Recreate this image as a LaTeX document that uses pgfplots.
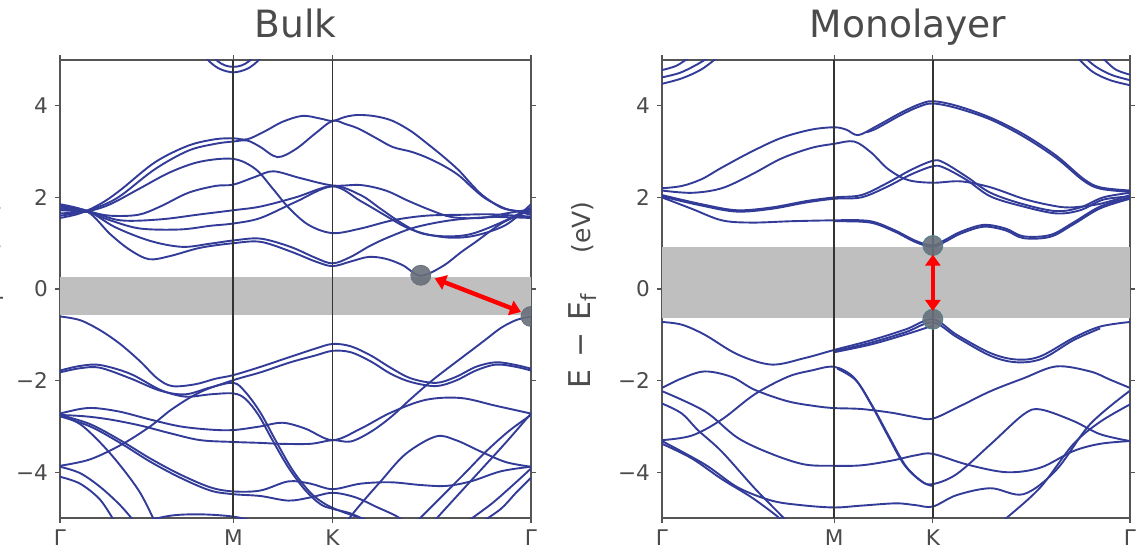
\documentclass[border=0pt]{standalone}
\usepackage{fontspec}
\setmainfont{DejaVu Sans}
\usepackage{pgfplots}
\pgfplotsset{compat=1.18}
\usetikzlibrary{arrows.meta}
\definecolor{bandc}{RGB}{50,60,152}
\definecolor{framec}{RGB}{85,85,85}
\definecolor{textc}{RGB}{75,75,75}
\definecolor{dotc}{RGB}{105,112,122}
\definecolor{dotedge}{RGB}{80,130,140}
\pgfplotsset{
 bs/.style={
  scale only axis, height=229pt,
  xmin=0, xmax=470, ymin=-5, ymax=5,
  xtick={0,173,272,470}, xticklabels={Γ,M,K,Γ},
  ytick={-4,-2,0,2,4}, yticklabels={−4,−2,0,2,4},
  tick align=outside, major tick length=2.5pt,
  tick style={framec, line width=0.6pt},
  axis line style={framec, line width=0.75pt},
  ticklabel style={font=\fontsize{10.8}{12}\selectfont, text=textc},
  clip marker paths=true,
 },
 band/.style={bandc, line width=0.95pt, smooth, tension=0.55, mark=none},
 vl/.style={black!80, line width=0.9pt, mark=none},
}
\newcommand{\ylab}{{\fontsize{15}{17}\selectfont E\hspace{0.4em}−\hspace{0.4em}E\textsubscript{f}}\hspace{2em}{\fontsize{12.5}{15}\selectfont (eV)}}
\begin{document}
\begin{tikzpicture}
\path[use as bounding box] (0,0) rectangle (570pt,279pt);
% ---------------- Bulk ----------------
\begin{axis}[bs, width=235.5pt, at={(30pt,20pt)}, anchor=south west]
\addplot[fill=gray!50, draw=none] coordinates {(0,0.27) (470,0.27) (470,-0.57) (0,-0.57)} -- cycle;
% conduction
\addplot[band] coordinates {(140,5.2) (150,4.95) (160,4.8) (173,4.73) (186,4.8) (196,4.95) (206,5.2)};
\addplot[band] coordinates {(148,5.2) (157,4.98) (165,4.88) (173,4.85) (181,4.88) (189,4.98) (198,5.2)};
\addplot[band] coordinates {(0,1.55) (15,1.62) (28,1.72) (45,1.92) (62,2.19) (95,2.77) (128,3.13) (155,3.27) (173,3.29) (187,3.27) (205,3.45) (222,3.65) (242,3.78) (260,3.72) (272,3.67) (285,3.76) (298,3.8) (315,3.77) (332,3.67) (350,3.45) (365,3.2) (382,2.9) (398,2.59) (410,2.3) (422,2.04) (440,1.78) (455,1.7) (470,1.62)};
\addplot[band] coordinates {(0,1.6) (15,1.65) (28,1.72) (45,1.85) (62,2.06) (95,2.62) (128,3.02) (155,3.17) (173,3.22) (187,3.24) (200,3.1) (217,2.88) (235,3.05) (255,3.4) (272,3.67) (285,3.6) (298,3.5) (315,3.3) (332,3.1) (350,3.0) (365,2.88) (382,2.7) (398,2.48) (412,2.2) (425,1.97) (445,1.75) (458,1.7) (470,1.66)};
\addplot[band] coordinates {(0,1.65) (28,1.7) (50,1.85) (80,2.2) (110,2.55) (140,2.78) (173,2.84) (195,2.62) (212,2.2) (228,1.78) (248,1.4) (272,1.22) (300,1.32) (332,1.5) (365,1.6) (400,1.62) (430,1.63) (470,1.58)};
\addplot[band] coordinates {(0,1.72) (28,1.68) (50,1.6) (78,1.62) (100,1.8) (128,2.1) (155,2.25) (173,2.28) (195,2.45) (213,2.57) (240,2.42) (272,2.26) (300,2.27) (325,2.15) (347,1.93) (370,1.72) (391,1.57) (420,1.55) (445,1.65) (470,1.74)};
\addplot[band] coordinates {(0,1.75) (28,1.7) (60,1.5) (100,1.52) (140,1.63) (173,1.72) (200,1.8) (235,2.0) (272,2.25) (300,2.05) (320,1.75) (340,1.45) (360,1.22) (385,1.15) (410,1.2) (440,1.45) (470,1.78)};
\addplot[band] coordinates {(0,1.8) (28,1.68) (50,1.5) (80,1.32) (120,1.3) (150,1.38) (173,1.43) (200,1.55) (235,1.9) (272,2.24) (300,1.92) (325,1.6) (345,1.35) (365,1.2) (390,1.12) (415,1.17) (445,1.4) (470,1.85)};
\addplot[band] coordinates {(0,1.82) (28,1.7) (55,1.35) (90,1.05) (122,0.92) (150,0.99) (173,1.06) (200,1.1) (230,0.92) (255,0.68) (272,0.56) (290,0.7) (310,0.95) (330,1.15) (355,1.35) (390,1.5) (430,1.57) (470,1.55)};
\addplot[band] coordinates {(0,1.85) (28,1.68) (50,1.2) (70,0.85) (89,0.65) (110,0.72) (140,0.9) (173,1.0) (200,1.03) (230,0.82) (255,0.6) (272,0.5) (290,0.6) (308,0.7) (325,0.66) (342,0.52) (360,0.29) (382,0.5) (400,0.8) (415,1.03) (442,1.45) (470,1.72)};
% valence
\addplot[band] coordinates {(0,-0.6) (20,-0.68) (40,-0.9) (60,-1.2) (80,-1.58) (97,-1.95) (112,-2.12) (135,-2.08) (155,-1.96) (173,-1.88) (200,-1.7) (230,-1.48) (255,-1.3) (272,-1.2) (290,-1.25) (310,-1.45) (330,-1.72) (350,-1.95) (375,-2.05) (395,-1.92) (415,-1.7) (435,-1.6) (455,-1.66) (470,-1.74)};
\addplot[band] coordinates {(0,-3.86) (30,-3.72) (62,-3.39) (90,-3.0) (112,-2.62) (140,-2.25) (173,-1.99) (200,-1.82) (230,-1.6) (255,-1.45) (272,-1.35) (290,-1.38) (310,-1.58) (330,-1.85) (350,-2.03) (375,-2.12) (395,-2.0) (415,-1.78) (435,-1.65) (455,-1.7) (470,-1.78)};
\addplot[band] coordinates {(0,-1.78) (20,-1.68) (40,-1.66) (70,-1.85) (100,-2.2) (125,-2.35) (150,-2.3) (173,-2.28) (185,-2.4) (198,-2.75) (212,-3.3) (228,-3.9) (245,-4.4) (260,-4.7) (272,-4.8) (290,-4.9) (310,-5.1)};
\addplot[band] coordinates {(0,-1.82) (20,-1.73) (40,-1.72) (70,-1.95) (100,-2.22) (125,-2.3) (150,-2.15) (173,-2.05) (185,-2.25) (200,-2.7) (215,-3.3) (232,-3.95) (250,-4.45) (265,-4.7) (280,-4.85) (300,-5.0) (315,-5.1)};
\addplot[band] coordinates {(0,-2.72) (20,-2.62) (35,-2.6) (60,-2.68) (90,-2.85) (120,-3.0) (150,-3.07) (173,-3.08) (200,-3.0) (222,-2.92) (245,-3.05) (272,-3.3) (300,-3.05) (330,-2.7) (365,-2.42) (400,-2.38) (435,-2.55) (470,-2.72)};
\addplot[band] coordinates {(470,-0.6) (455,-0.68) (440,-0.85) (425,-1.1) (410,-1.35) (390,-1.68) (370,-2.02) (350,-2.4) (330,-2.8) (310,-3.12) (290,-3.33) (272,-3.3) (250,-3.38) (220,-3.38) (200,-3.36) (173,-3.34) (140,-3.3) (110,-3.15) (80,-2.98) (50,-2.85) (25,-2.78) (0,-2.75)};
\addplot[band] coordinates {(0,-2.75) (30,-2.95) (60,-3.3) (90,-3.7) (120,-4.05) (150,-4.33) (173,-4.42) (200,-4.4) (228,-4.2) (250,-4.25) (272,-4.37) (300,-4.25) (330,-4.22) (360,-4.28) (385,-4.3) (410,-4.2) (440,-3.98) (470,-3.88)};
\addplot[band] coordinates {(0,-2.78) (30,-3.0) (60,-3.36) (90,-3.77) (120,-4.12) (150,-4.4) (173,-4.48) (200,-4.52) (228,-4.62) (250,-4.55) (272,-4.45) (295,-4.55) (315,-4.75) (335,-4.95) (345,-5.1)};
\addplot[band] coordinates {(0,-2.75) (20,-2.95) (40,-3.35) (60,-3.85) (80,-4.45) (95,-5.1)};
\addplot[band] coordinates {(0,-3.88) (20,-4.02) (40,-4.32) (60,-4.72) (75,-5.1)};
\addplot[band] coordinates {(0,-4.1) (20,-4.25) (40,-4.6) (55,-5.1)};
\addplot[band] coordinates {(285,-5.1) (300,-4.7) (320,-4.2) (345,-3.6) (375,-3.22) (395,-3.3) (420,-3.55) (445,-3.78) (470,-3.88)};
\addplot[band] coordinates {(355,-5.1) (380,-4.55) (405,-4.0) (425,-3.55) (448,-3.1) (470,-2.75)};
\addplot[band] coordinates {(372,-5.1) (397,-4.5) (420,-3.95) (445,-3.35) (470,-2.72)};
\addplot[band] coordinates {(405,-5.1) (430,-4.7) (450,-4.32) (470,-3.92)};
\addplot[band] coordinates {(420,-5.1) (440,-4.8) (455,-4.45) (470,-4.12)};
\addplot[band] coordinates {(80,-5.1) (110,-4.95) (140,-4.92) (173,-4.97) (200,-5.1)};
% high-symmetry lines
\addplot[vl] coordinates {(173,-5) (173,5)};
\addplot[vl] coordinates {(272,-5) (272,5)};
% gap markers
\addplot[only marks, mark=*, mark size=5pt, mark options={fill=dotc, draw=dotc, fill opacity=0.9}] coordinates {(360,0.3) (470,-0.6)};
\addplot[red, line width=2.2pt, {Triangle[width=7.5pt,length=5.5pt]}-{Triangle[width=7.5pt,length=5.5pt]}] coordinates {(374,0.23) (460,-0.5)};
\end{axis}
% ---------------- Monolayer ----------------
\begin{axis}[bs, width=234pt, at={(331pt,20pt)}, anchor=south west]
\addplot[fill=gray!50, draw=none] coordinates {(0,0.92) (470,0.92) (470,-0.64) (0,-0.64)} -- cycle;
% conduction
\addplot[band] coordinates {(0,4.48) (20,4.6) (40,4.8) (58,5.1)};
\addplot[band] coordinates {(0,4.62) (18,4.72) (35,4.9) (50,5.1)};
\addplot[band] coordinates {(0,4.78) (15,4.88) (30,5.1)};
\addplot[band] coordinates {(470,4.45) (450,4.56) (432,4.75) (415,5.1)};
\addplot[band] coordinates {(470,4.56) (452,4.67) (436,4.85) (422,5.1)};
\addplot[band] coordinates {(470,4.68) (455,4.8) (440,5.1)};
\addplot[band] coordinates {(0,2.2) (20,2.25) (40,2.4) (60,2.65) (90,3.0) (120,3.3) (150,3.48) (173,3.53) (185,3.48) (197,3.36) (215,3.55) (240,3.85) (258,4.03) (272,4.1) (296,4.0) (330,3.74) (363,3.38) (396,2.91) (423,2.41) (440,2.22) (470,2.15)};
\addplot[band] coordinates {(205,3.42) (215,3.5) (240,3.8) (258,3.98) (272,4.05) (296,3.95) (330,3.7) (363,3.33) (396,2.86) (423,2.37) (440,2.19) (470,2.12)};
\addplot[band] coordinates {(0,2.15) (30,2.1) (60,2.2) (90,2.5) (120,2.85) (150,3.08) (173,3.17) (193,3.22) (210,2.98) (227,2.62) (247,2.38) (272,2.32) (300,2.35) (330,2.22) (363,1.97) (390,1.83) (410,1.78) (440,1.86) (470,2.05)};
\addplot[band] coordinates {(0,2.05) (40,1.85) (75,1.72) (110,1.78) (145,1.92) (173,2.0) (200,2.05) (225,2.3) (250,2.6) (272,2.8) (283,2.76) (306,2.45) (330,2.1) (363,1.85) (396,1.7) (420,1.78) (443,2.0) (470,2.1)};
\addplot[band] coordinates {(0,2.02) (40,1.82) (75,1.69) (110,1.75) (145,1.89) (173,1.97) (200,2.0) (225,2.22) (250,2.5) (272,2.68) (283,2.65) (306,2.38) (330,2.02) (363,1.8) (396,1.65) (420,1.72) (443,1.95) (470,2.02)};
\addplot[band] coordinates {(0,2.0) (30,1.75) (60,1.5) (90,1.45) (130,1.48) (173,1.5) (200,1.5) (215,1.45) (235,1.27) (255,1.05) (272,0.95) (285,1.08) (300,1.25) (323,1.4) (345,1.32) (363,1.15) (390,1.18) (413,1.45) (440,1.8) (470,2.0)};
\addplot[band] coordinates {(173,1.48) (200,1.47) (215,1.42) (235,1.24) (255,1.02) (272,0.92) (285,1.04) (300,1.21) (323,1.36) (345,1.28) (363,1.11) (390,1.14) (413,1.41) (440,1.76) (470,1.97)};
% valence
\addplot[band] coordinates {(0,-0.72) (20,-0.78) (43,-1.0) (76,-1.43) (110,-1.65) (143,-1.51) (173,-1.33) (210,-1.12) (245,-0.88) (272,-0.66) (296,-1.0) (330,-1.4) (356,-1.54) (380,-1.47) (413,-1.07) (440,-0.82) (470,-0.72)};
\addplot[band] coordinates {(173,-1.36) (210,-1.17) (245,-0.94) (272,-0.73) (296,-1.05) (330,-1.46) (356,-1.6) (382,-1.52) (413,-1.12) (440,-0.86)};
\addplot[band] coordinates {(173,-1.38) (210,-1.21) (245,-0.99) (272,-0.8)};
\addplot[band] coordinates {(0,-3.3) (30,-3.2) (60,-2.85) (93,-2.3) (126,-1.92) (150,-1.78) (173,-1.7) (193,-1.94) (210,-2.52) (226,-3.17) (243,-3.83) (260,-4.19) (272,-4.26) (296,-4.04) (330,-3.39) (363,-2.74) (380,-2.63) (413,-2.88) (440,-3.17) (470,-3.32)};
\addplot[band] coordinates {(176,-1.74) (195,-2.0) (212,-2.58) (228,-3.22) (245,-3.87) (262,-4.22) (272,-4.3)};
\addplot[band] coordinates {(0,-2.16) (20,-1.95) (43,-1.8) (70,-1.92) (93,-2.2) (126,-2.45) (155,-2.56) (173,-2.6) (200,-2.62) (230,-2.7) (255,-2.8) (272,-2.83) (300,-2.55) (330,-2.23) (363,-1.95) (396,-1.69) (430,-1.8) (450,-1.98) (470,-2.16)};
\addplot[band] coordinates {(0,-2.23) (43,-2.67) (76,-3.25) (110,-3.6) (143,-3.83) (173,-3.86) (200,-3.85) (230,-3.75) (255,-3.63) (272,-3.6) (306,-3.83) (346,-4.0) (380,-3.9) (413,-3.54) (440,-3.38) (470,-3.32)};
\addplot[band] coordinates {(0,-2.5) (20,-2.72) (36,-3.08) (60,-3.55) (93,-4.35) (120,-4.95) (126,-5.1)};
\addplot[band] coordinates {(0,-3.32) (43,-3.83) (76,-4.33) (110,-4.62) (140,-4.72) (173,-4.77) (200,-4.73) (235,-4.68) (255,-4.72) (272,-4.75) (296,-4.5) (330,-4.35) (363,-4.48) (396,-3.95) (430,-2.95) (470,-2.22)};
\addplot[band] coordinates {(0,-3.38) (30,-3.7) (60,-4.15) (90,-4.55) (115,-4.95) (122,-5.1)};
\addplot[band] coordinates {(340,-5.1) (346,-5.0) (380,-4.33) (413,-3.39) (440,-2.9) (470,-2.52)};
% high-symmetry lines
\addplot[vl] coordinates {(173,-5) (173,5)};
\addplot[vl] coordinates {(272,-5) (272,5)};
% gap markers
\addplot[only marks, mark=*, mark size=5pt, mark options={fill=dotc, draw=dotedge, fill opacity=0.9}] coordinates {(272,0.95) (272,-0.66)};
\addplot[red, line width=2.2pt, {Triangle[width=7.5pt,length=5.5pt]}-{Triangle[width=7.5pt,length=5.5pt]}] coordinates {(272,0.75) (272,-0.48)};
\end{axis}
% titles and labels
\node[anchor=base, font=\fontsize{18.8}{22}\selectfont, text=textc] at (147.75pt,260pt) {Bulk};
\node[anchor=base, font=\fontsize{18.8}{22}\selectfont, text=textc] at (454pt,260pt) {Monolayer};
\node[rotate=90, text=textc] at (291.5pt,131.5pt) {\ylab};
\node[rotate=90, text=textc] at (-5pt,131.5pt) {\ylab};
\end{tikzpicture}
\end{document}
